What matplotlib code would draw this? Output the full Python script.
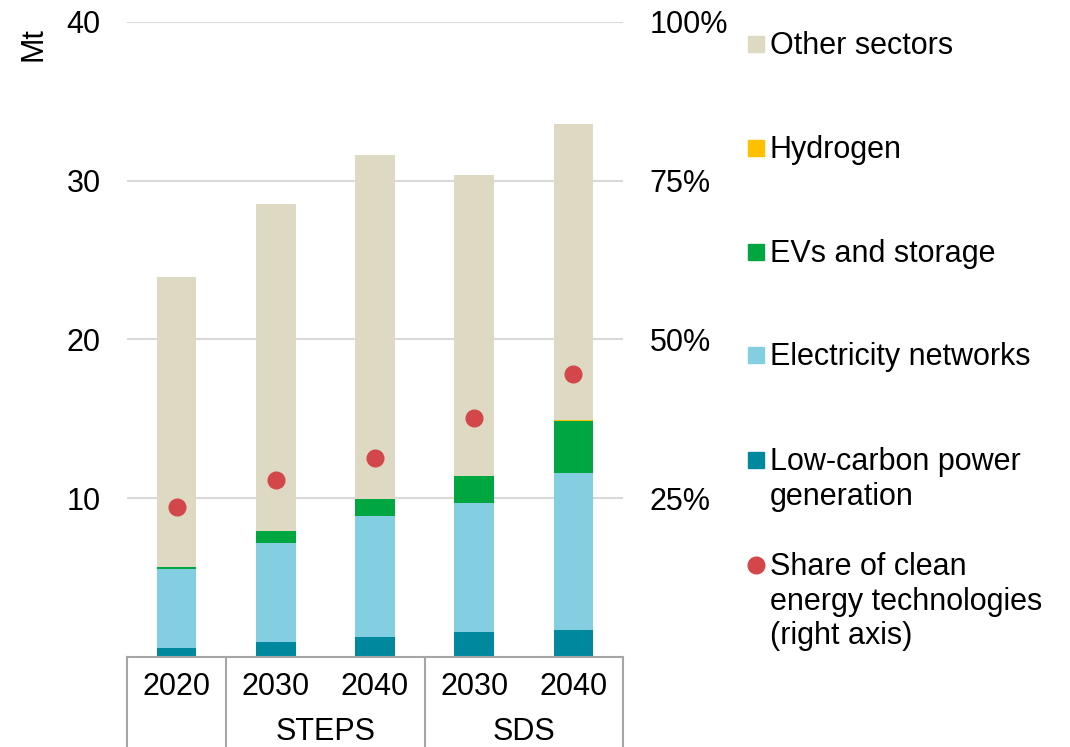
import numpy as np
import matplotlib.pyplot as plt
from matplotlib.patches import Rectangle
from matplotlib.lines import Line2D

plt.rcParams['font.family'] = ['Liberation Sans', 'DejaVu Sans']

# anni e scenari
years = ['2020', '2030', '2040', '2030', '2040']
groups = ['', 'STEPS', 'SDS']
group_spans = [(0, 0), (1, 2), (3, 4)]

# domanda di rame (Mt) per settore
low_carbon = [0.58, 0.95, 1.25, 1.6, 1.72]
elec_networks = [4.97, 6.24, 7.62, 8.1, 9.87]
evs_storage = [0.13, 0.75, 1.07, 1.73, 3.3]
hydrogen = [0.0, 0.0, 0.0, 0.0, 0.06]
totals = [23.95, 28.55, 31.65, 30.35, 33.55]
# quota tecnologie pulite (asse destro)
clean_share = [0.237, 0.279, 0.314, 0.377, 0.446]

other = [t - a - b - c - d for t, a, b, c, d in
         zip(totals, low_carbon, elec_networks, evs_storage, hydrogen)]

series = [
    ("Low-carbon power\ngeneration", low_carbon, "#00889E"),
    ("Electricity networks", elec_networks, "#83CFE1"),
    ("EVs and storage", evs_storage, "#00A63F"),
    ("Hydrogen", hydrogen, "#FFC000"),
    ("Other sectors", other, "#DDD9C3"),
]
dot_color = "#D3464A"
grey = "#A6A6A6"
fs = 22

fig = plt.figure(figsize=(10.7, 7.47), dpi=100)
ax = fig.add_axes([127 / 1070, 1 - 657 / 747, 496 / 1070, 635 / 747])

x = np.arange(len(years))
bottom = np.zeros(len(years))
for name, vals, col in series:
    ax.bar(x, vals, bottom=bottom, width=0.4, color=col, zorder=2)
    bottom += np.array(vals)

ax.set_xlim(-0.5, len(years) - 0.5)
ax.set_ylim(0, 40)
ax.set_yticks([10, 20, 30, 40])
ax.set_yticklabels(['10', '20', '30', '40'], fontsize=fs)
ax.grid(axis='y', color='#D9D9D9', linewidth=1.5, zorder=0)
ax.tick_params(axis='y', length=0, pad=19)
ax.set_xticks([])
for s in ['left', 'right', 'top']:
    ax.spines[s].set_visible(False)
ax.spines['bottom'].set_color(grey)
ax.spines['bottom'].set_linewidth(1.5)

ax2 = ax.twinx()
ax2.set_ylim(0, 1)
ax2.plot(x, clean_share, 'o', color=dot_color, markersize=12, zorder=5)
ax2.set_yticks([0.25, 0.5, 0.75, 1.0])
ax2.set_yticklabels(['25%', '50%', '75%', '100%'], fontsize=fs)
ax2.tick_params(axis='y', length=0, pad=19)
for s in ['left', 'right', 'top', 'bottom']:
    ax2.spines[s].set_visible(False)

# tabella delle categorie sotto l'asse x
trans = ax.get_xaxis_transform()
y_bot = -(747 - 657) / 635
for xv in [-0.5, 0.5, 2.5, 4.5]:
    ax.add_line(Line2D([xv, xv], [0, y_bot], transform=trans, color=grey,
                       linewidth=1.5, clip_on=False))
for i, yr in enumerate(years):
    ax.text(i, -30 / 635, yr, transform=trans, ha='center', va='center',
            fontsize=fs)
for g, (a, b) in zip(groups, group_spans):
    ax.text((a + b) / 2, -75 / 635, g, transform=trans, ha='center',
            va='center', fontsize=fs)

fig.text(33 / 1070, 1 - 44 / 747, "Mt", rotation=90, ha='center',
         va='center', fontsize=fs)

# legenda
legend_items = [
    ("Other sectors", "#DDD9C3", 44, 's'),
    ("Hydrogen", "#FFC000", 148, 's'),
    ("EVs and storage", "#00A63F", 252, 's'),
    ("Electricity networks", "#83CFE1", 355, 's'),
    ("Low-carbon power\ngeneration", "#00889E", 460, 's'),
    ("Share of clean\nenergy technologies\n(right axis)", dot_color, 565, 'o'),
]
for label, col, ypx, kind in legend_items:
    yf = 1 - ypx / 747
    if kind == 's':
        fig.patches.append(Rectangle((748 / 1070, yf - 8 / 747), 16 / 1070,
                                     16 / 747, transform=fig.transFigure,
                                     color=col))
    else:
        fig.lines.append(Line2D([756 / 1070], [yf], marker='o', markersize=12,
                                color=col, transform=fig.transFigure))
    fig.text(770 / 1070, yf + 13 / 747, label, ha='left', va='top',
             fontsize=fs, linespacing=1.2)

fig.savefig("out.png", dpi=100)
